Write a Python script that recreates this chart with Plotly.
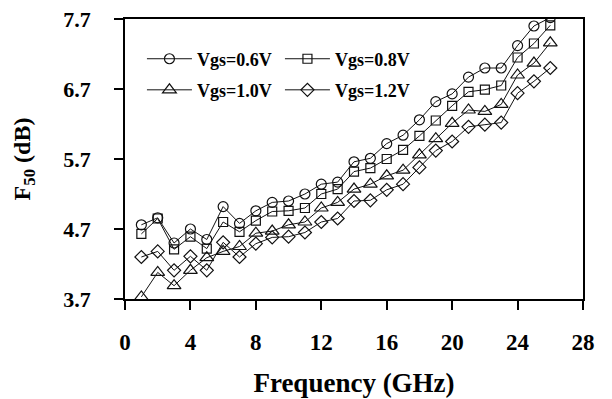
import plotly.graph_objects as go

freq = [1, 2, 3, 4, 5, 6, 7, 8, 9, 10, 11, 12, 13, 14, 15, 16, 17, 18, 19, 20, 21, 22, 23, 24, 25, 26]
f50_vgs_06 = [4.76, 4.86, 4.50, 4.70, 4.55, 5.02, 4.78, 4.96, 5.08, 5.10, 5.20, 5.34, 5.37, 5.66, 5.71, 5.92,
              6.04, 6.26, 6.52, 6.63, 6.87, 7.00, 7.00, 7.32, 7.60, 7.72]
f50_vgs_08 = [4.63, 4.85, 4.41, 4.59, 4.42, 4.80, 4.66, 4.82, 4.95, 4.96, 5.00, 5.20, 5.27, 5.52, 5.57, 5.70,
              5.83, 6.03, 6.25, 6.46, 6.66, 6.69, 6.75, 7.15, 7.35, 7.61]
f50_vgs_10 = [3.73, 4.08, 3.89, 4.11, 4.29, 4.38, 4.45, 4.64, 4.67, 4.76, 4.80, 5.00, 5.08, 5.27, 5.34, 5.46,
              5.54, 5.76, 5.99, 6.21, 6.40, 6.38, 6.48, 6.90, 7.07, 7.36]
f50_vgs_12 = [4.30, 4.38, 4.11, 4.31, 4.11, 4.51, 4.30, 4.49, 4.58, 4.59, 4.65, 4.80, 4.85, 5.10, 5.11, 5.26,
              5.34, 5.58, 5.82, 5.95, 6.16, 6.19, 6.22, 6.64, 6.81, 7.00]
series_names = ["Vgs=0.6V", "Vgs=0.8V", "Vgs=1.0V", "Vgs=1.2V"]
y_ticks = [3.7, 4.7, 5.7, 6.7, 7.7]
x_ticks = [0, 4, 8, 12, 16, 20, 24, 28]

FONT = "Liberation Serif"
symbols = ["circle-open", "square-open", "triangle-up-open", "diamond-open"]
sizes = [10, 9, 12, 10]
legends = ["legend", "legend", "legend2", "legend2"]

fig = go.Figure()
for name, ys, sym, sz, lg in zip(series_names, [f50_vgs_06, f50_vgs_08, f50_vgs_10, f50_vgs_12],
                                 symbols, sizes, legends):
    fig.add_trace(go.Scatter(
        x=freq, y=ys, name=name, mode="lines+markers",
        line=dict(color="#111111", width=1),
        marker=dict(symbol=sym, size=sz, color="#111111", line=dict(width=1.2, color="#111111")),
        legend=lg,
    ))

leg_common = dict(
    orientation="h", xanchor="left", yanchor="middle", x=0.037,
    font=dict(family=FONT, size=18, color="black", weight="bold"),
    bgcolor="rgba(0,0,0,0)", borderwidth=0,
    itemwidth=45, entrywidth=78, entrywidthmode="pixels",
    tracegroupgap=0,
)

# page body has an 8px default margin; the figure is sized so it fits the 612x399 window
fig.update_layout(
    width=604, height=391,
    margin=dict(l=117, r=29, t=11, b=100, autoexpand=False),
    plot_bgcolor="white", paper_bgcolor="white",
    font=dict(family=FONT, color="black"),
    showlegend=True,
    legend=dict(y=0.857, **leg_common),
    legend2=dict(y=0.746, **leg_common),
    xaxis=dict(
        range=[0, 28], tickmode="array", tickvals=x_ticks, automargin=False,
        ticks="outside", ticklen=9, tickwidth=1.5, tickcolor="black",
        showline=True, linewidth=1.5, linecolor="black", mirror=True,
        showgrid=False, zeroline=False, ticklabeloverflow="allow",
        tickfont=dict(family=FONT, size=23, color="black", weight="bold"),
        ticklabelstandoff=13,
        title=dict(text="Frequency (GHz)", font=dict(family=FONT, size=27, color="black", weight="bold"),
                   standoff=19),
    ),
    yaxis=dict(
        range=[3.7, 7.7], tickmode="array", tickvals=y_ticks, ticktext=[f"{v:.1f}" for v in y_ticks],
        automargin=False, ticklabeloverflow="allow",
        ticks="outside", ticklen=9, tickwidth=1.5, tickcolor="black",
        showline=True, linewidth=1.5, linecolor="black", mirror=True,
        showgrid=False, zeroline=False,
        tickfont=dict(family=FONT, size=22, color="black", weight="bold"),
        ticklabelstandoff=19,
        title=dict(text="F<sub>50</sub> (dB)", font=dict(family=FONT, size=24, color="black", weight="bold"),
                   standoff=26),
    ),
)

fig.write_html("out.html")
